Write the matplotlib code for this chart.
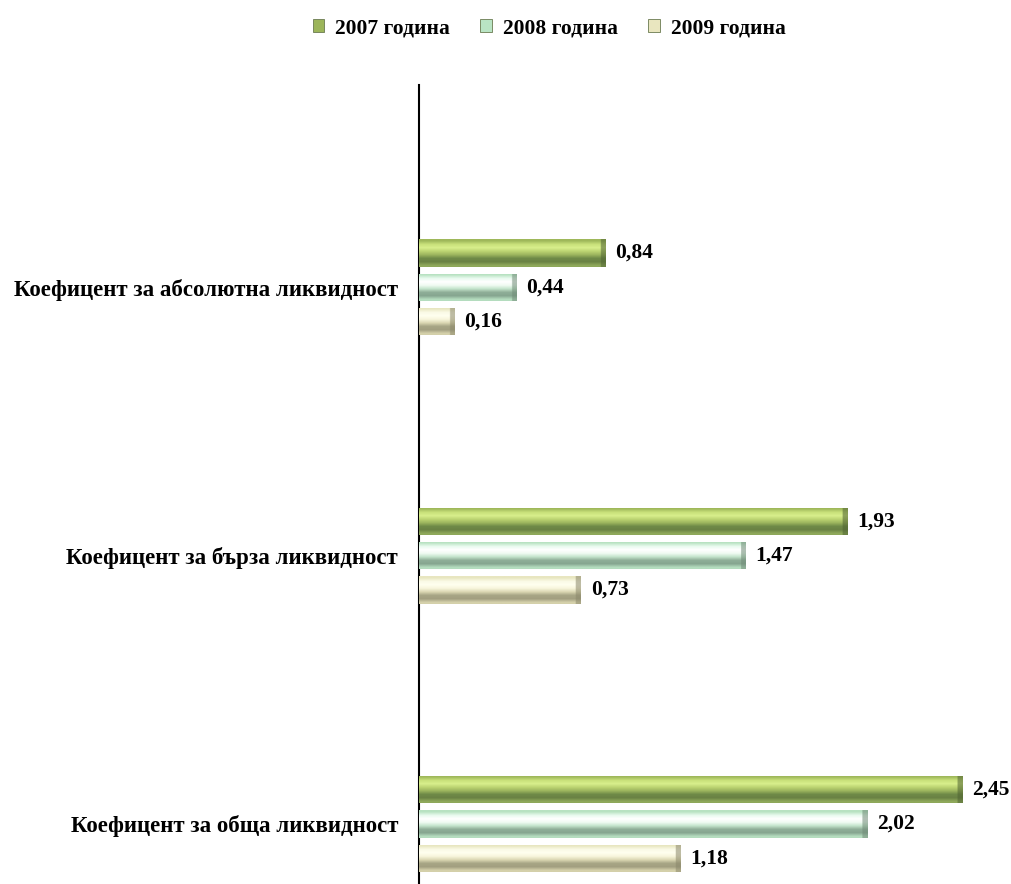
import numpy as np
import matplotlib
matplotlib.use("Agg")
import matplotlib.pyplot as plt
from matplotlib.patches import Patch
from matplotlib.colors import to_rgb

categories = ["Коефицент за абсолютна ликвидност",
              "Коефицент за бърза ликвидност",
              "Коефицент за обща ликвидност"]
series_names = ["2007 година", "2008 година", "2009 година"]
values_2007 = [0.84, 1.93, 2.45]
values_2008 = [0.44, 1.47, 2.02]
values_2009 = [0.16, 0.73, 1.18]
value_labels_2007 = ["0,84", "1,93", "2,45"]
value_labels_2008 = ["0,44", "1,47", "2,02"]
value_labels_2009 = ["0,16", "0,73", "1,18"]

series_values = [values_2007, values_2008, values_2009]
series_labels = [value_labels_2007, value_labels_2008, value_labels_2009]

# bevel gradients (top -> bottom)
gradients = [
    ["#9fb85a", "#c8e07a", "#d8ee8c", "#bcd472", "#9cb55e", "#6f8a48", "#6a8244", "#8ea85a"],
    ["#b8e2c2", "#e8faee", "#ffffff", "#f0fbf2", "#c4e4cc", "#8fae98", "#86a690", "#b4dcbe"],
    ["#e8e6c0", "#fafae6", "#ffffef", "#f8f6dc", "#dcd8b4", "#a8a686", "#a29f80", "#d4d0aa"],
]
cap_colors = ["#4f6332", "#6f8a76", "#8a876a"]
legend_colors = ["#9cb55a", "#b9e4c4", "#e9e6bf"]

font = ["Liberation Serif", "DejaVu Serif"]

fig = plt.figure(figsize=(10.12, 8.84), dpi=100)
ax = fig.add_axes([419 / 1012, 0.0, 590 / 1012, (884 - 85) / 884])

y = np.arange(len(categories))
offsets = [-0.128, 0.0, 0.128]
bar_h = 0.102
ncols = 400

for si, (vals, labs) in enumerate(zip(series_values, series_labels)):
    bars = ax.barh(y + offsets[si], vals, height=bar_h, color=legend_colors[si],
                   edgecolor="none", zorder=2)
    col = np.array([to_rgb(c) for c in gradients[si]])
    cap = np.array(to_rgb(cap_colors[si]))
    for b, lab in zip(bars, labs):
        x0, yb = b.get_x(), b.get_y()
        w, h = b.get_width(), b.get_height()
        img = np.repeat(col[:, None, :], ncols, axis=1)
        xs = np.linspace(0, w, ncols)
        mask = xs > w - 0.022
        img[:, mask, :] = img[:, mask, :] * 0.45 + cap * 0.55
        lmask = xs < 0.012
        img[:, lmask, :] = img[:, lmask, :] * 0.6 + np.array([1, 1, 1]) * 0.4 * 0 + img[:, lmask, :] * 0.4
        im = ax.imshow(img, extent=(x0, x0 + w, yb + h, yb), origin="upper",
                       aspect="auto", interpolation="bilinear", zorder=3)
        im.set_clip_path(b)
        ax.text(x0 + w + 0.045, yb + h / 2, lab, va="center", ha="left",
                family=font, fontweight="bold", fontsize=15.5, color="black")

ax.set_xlim(0, 2.66)
ax.set_ylim(2.224, -0.754)
ax.set_yticks(y)
ax.set_yticklabels(categories, family=font, fontweight="bold", fontsize=16.5)
ax.tick_params(axis="y", length=0, pad=15)
ax.set_xticks([])
for s in ["top", "right", "bottom"]:
    ax.spines[s].set_visible(False)
ax.spines["left"].set_linewidth(1.5)
ax.spines["left"].set_color("black")

handles = [Patch(facecolor=c, edgecolor="#6a7a50", linewidth=0.6) for c in legend_colors]
fig.legend(handles, series_names, loc="center", bbox_to_anchor=(0.5425, 0.968),
           ncol=3, frameon=False, handlelength=0.55, handleheight=0.55,
           handletextpad=0.5, columnspacing=1.4,
           prop={"family": font, "weight": "bold", "size": 15.5})

fig.savefig("out.png", dpi=100)
